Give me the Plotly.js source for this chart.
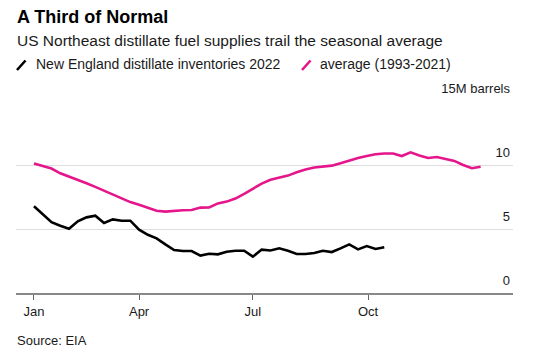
<!DOCTYPE html>
<html>
<head>
<meta charset="utf-8">
<script src="https://cdn.plot.ly/plotly-3.0.1.min.js"></script>
<style>html,body{margin:0;padding:0;background:#fff;}#chart{width:538px;height:357px;}</style>
</head>
<body>
<div id="chart"></div>
<script>
// Weekly dates (2022)
const weeks = [
  '2022-01-07','2022-01-14','2022-01-21','2022-01-28',
  '2022-02-04','2022-02-11','2022-02-18','2022-02-25',
  '2022-03-04','2022-03-11','2022-03-18','2022-03-25',
  '2022-04-01','2022-04-08','2022-04-15','2022-04-22','2022-04-29',
  '2022-05-06','2022-05-13','2022-05-20','2022-05-27',
  '2022-06-03','2022-06-10','2022-06-17','2022-06-24',
  '2022-07-01','2022-07-08','2022-07-15','2022-07-22','2022-07-29',
  '2022-08-05','2022-08-12','2022-08-19','2022-08-26',
  '2022-09-02','2022-09-09','2022-09-16','2022-09-23','2022-09-30',
  '2022-10-07','2022-10-14','2022-10-21','2022-10-28',
  '2022-11-04','2022-11-11','2022-11-18','2022-11-25',
  '2022-12-02','2022-12-09','2022-12-16','2022-12-23','2022-12-30'
];

// New England distillate inventories 2022 (million barrels)
const inventories2022 = [
  6.78, 6.15, 5.53, 5.25, 5.02, 5.60, 5.91, 6.04, 5.47, 5.75,
  5.65, 5.65, 4.95, 4.55, 4.27, 3.80, 3.36, 3.28, 3.28, 2.92,
  3.07, 3.02, 3.23, 3.30, 3.30, 2.84, 3.39, 3.32, 3.49, 3.30,
  3.05, 3.05, 3.12, 3.30, 3.20, 3.49, 3.80, 3.41, 3.67, 3.44,
  3.57
];

// Average 1993-2021 (million barrels)
const average19932021 = [
  10.12, 9.95, 9.72, 9.35, 9.10, 8.87, 8.57, 8.29, 8.00, 7.70,
  7.38, 7.10, 6.90, 6.65, 6.43, 6.36, 6.42, 6.47, 6.48, 6.67,
  6.68, 7.00, 7.14, 7.38, 7.75, 8.15, 8.55, 8.84, 9.00, 9.17,
  9.43, 9.65, 9.80, 9.88, 9.95, 10.14, 10.35, 10.55, 10.70, 10.84,
  10.90, 10.90, 10.70, 10.99, 10.75, 10.55, 10.62, 10.48, 10.32, 10.00,
  9.75, 9.87
];

const xTickVals = ['2022-01-07', '2022-04-01', '2022-07-01', '2022-10-01'];
const xTickText = ['Jan', 'Apr', 'Jul', 'Oct'];
const yTickVals = [0, 5, 10, 15];
const yTickText = ['0', '5', '10', '15M barrels'];

const seriesNames = ['New England distillate inventories 2022', 'average (1993-2021)'];
const colors = ['#000000', '#e5168b'];

const FONT = 'Liberation Sans, Arial, Helvetica, sans-serif';

const traces = [
  {
    x: weeks.slice(0, average19932021.length), y: average19932021,
    type: 'scatter', mode: 'lines', name: seriesNames[1],
    line: {color: colors[1], width: 2.6}, hoverinfo: 'skip'
  },
  {
    x: weeks.slice(0, inventories2022.length), y: inventories2022,
    type: 'scatter', mode: 'lines', name: seriesNames[0],
    line: {color: colors[0], width: 2.6}, hoverinfo: 'skip'
  }
];

const py = p => (293 - p) / 192;
const px = p => (p - 16) / 497;

const layout = {
  width: 538, height: 357,
  margin: {l: 16, r: 25, t: 101, b: 64, pad: 0},
  paper_bgcolor: '#ffffff', plot_bgcolor: '#ffffff',
  showlegend: false,
  font: {family: FONT, size: 13, color: '#1a1a1a'},
  xaxis: {
    type: 'date',
    range: ['2021-12-23 15:00', '2023-01-24 21:00'],
    tickvals: xTickVals, ticktext: xTickText,
    showgrid: false, zeroline: false,
    showline: true, linecolor: '#888888', linewidth: 2,
    ticks: 'outside', ticklen: 5, tickwidth: 1, tickcolor: '#666666',
    tickfont: {family: FONT, size: 13, color: '#1a1a1a'},
    fixedrange: true
  },
  yaxis: {
    range: [0, 15],
    side: 'right',
    tickvals: yTickVals, ticktext: yTickText,
    ticklabelposition: 'inside',
    ticklabelshift: -13,
    ticklabeloverflow: 'allow',
    ticks: '',
    showgrid: true, gridcolor: '#dddddd', gridwidth: 1,
    zeroline: false, showline: false,
    tickfont: {family: FONT, size: 13, color: '#1a1a1a'},
    fixedrange: true
  },
  shapes: [
    {type: 'line', xref: 'paper', yref: 'paper', x0: px(17), y0: py(70), x1: px(25.5), y1: py(60.5),
     line: {color: colors[0], width: 2.6}},
    {type: 'line', xref: 'paper', yref: 'paper', x0: px(302), y0: py(70), x1: px(310.5), y1: py(60.5),
     line: {color: colors[1], width: 2.6}}
  ],
  annotations: [
    {text: '<b>A Third of Normal</b>', xref: 'paper', yref: 'paper', x: px(15), y: py(17),
     xanchor: 'left', yanchor: 'middle', showarrow: false,
     font: {family: FONT, size: 18, color: '#000000'}},
    {text: 'US Northeast distillate fuel supplies trail the seasonal average', xref: 'paper', yref: 'paper',
     x: px(15), y: py(40), xanchor: 'left', yanchor: 'middle', showarrow: false,
     font: {family: FONT, size: 15.5, color: '#1a1a1a'}},
    {text: seriesNames[0], xref: 'paper', yref: 'paper', x: px(34), y: py(64.5),
     xanchor: 'left', yanchor: 'middle', showarrow: false,
     font: {family: FONT, size: 14, color: '#1a1a1a'}},
    {text: seriesNames[1], xref: 'paper', yref: 'paper', x: px(318), y: py(64.5),
     xanchor: 'left', yanchor: 'middle', showarrow: false,
     font: {family: FONT, size: 14, color: '#1a1a1a'}},
    {text: 'Source: EIA', xref: 'paper', yref: 'paper', x: px(15), y: py(340),
     xanchor: 'left', yanchor: 'middle', showarrow: false,
     font: {family: FONT, size: 13, color: '#1a1a1a'}}
  ]
};

Plotly.newPlot('chart', traces, layout, {displayModeBar: false, staticPlot: true});
</script>
</body>
</html>
